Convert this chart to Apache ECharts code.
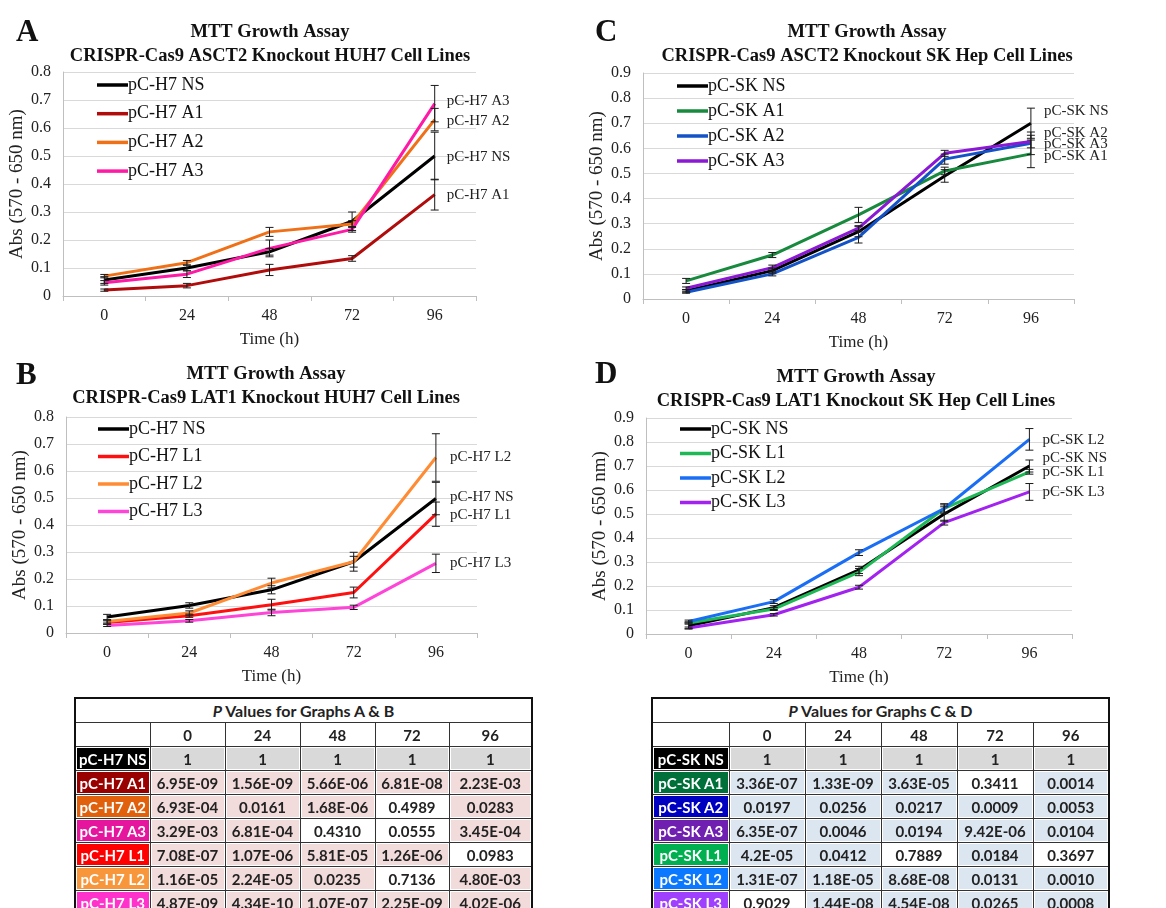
<!DOCTYPE html>
<html>
<head>
<meta charset="utf-8">
<title>MTT Growth Assay</title>
<script src="https://cdn.jsdelivr.net/npm/echarts@6/dist/echarts.min.js"></script>
<style>
  body { margin: 0; background: #fff; overflow: hidden; }
  #main { position: absolute; left: 0; top: 0; width: 1166px; height: 908px; }
  .ptab {
    position: absolute;
    border-collapse: collapse;
    table-layout: fixed;
    font-family: Lato, "Liberation Sans", sans-serif;
    font-weight: bold;
    font-size: 15px;
    color: #222;
    border: 2px solid #111;
  }
  .ptab td {
    height: 23px;
    padding: 0;
    text-align: center;
    border: 1px solid #333;
    box-shadow: inset 0 0 0 1px #fff;
    white-space: nowrap;
    overflow: hidden;
  }
  .ptab td.ttl { font-size: 16px; background: #fff; }
  .ptab td.lab { color: #fff; font-weight: bold; }
</style>
</head>
<body>
<div id="main"></div>
<table id="tabAB" class="ptab" style="left:74px;top:697px;"></table>
<table id="tabCD" class="ptab" style="left:651px;top:697px;"></table>
<script>
// time points (h)
var hours = ['0', '24', '48', '72', '96'];

// panel A: ASCT2 knockout HUH7
var namesA = ['pC-H7 NS', 'pC-H7 A1', 'pC-H7 A2', 'pC-H7 A3'];
var aNS = [0.057, 0.100, 0.158, 0.267, 0.500];
var aA1 = [0.021, 0.037, 0.093, 0.134, 0.362];
var aA2 = [0.071, 0.119, 0.229, 0.257, 0.630];
var aA3 = [0.047, 0.078, 0.170, 0.238, 0.687];
var aNSerr = [0.012, 0.010, 0.012, 0.033, 0.085];
var aA1err = [0.004, 0.008, 0.020, 0.010, 0.055];
var aA2err = [0.006, 0.008, 0.016, 0.012, 0.040];
var aA3err = [0.008, 0.012, 0.030, 0.010, 0.065];

// panel B: LAT1 knockout HUH7
var namesB = ['pC-H7 NS', 'pC-H7 L1', 'pC-H7 L2', 'pC-H7 L3'];
var bNS = [0.059, 0.102, 0.160, 0.264, 0.498];
var bL1 = [0.039, 0.064, 0.105, 0.150, 0.440];
var bL2 = [0.043, 0.074, 0.185, 0.264, 0.650];
var bL3 = [0.028, 0.045, 0.076, 0.095, 0.258];
var bNSerr = [0.010, 0.010, 0.015, 0.035, 0.060];
var bL1err = [0.006, 0.006, 0.020, 0.020, 0.045];
var bL2err = [0.006, 0.008, 0.018, 0.020, 0.088];
var bL3err = [0.004, 0.005, 0.012, 0.008, 0.034];

// panel C: ASCT2 knockout SK Hep
var namesC = ['pC-SK NS', 'pC-SK A1', 'pC-SK A2', 'pC-SK A3'];
var cNS = [0.032, 0.113, 0.268, 0.490, 0.700];
var cA1 = [0.072, 0.175, 0.335, 0.510, 0.578];
var cA2 = [0.027, 0.100, 0.245, 0.557, 0.620];
var cA3 = [0.043, 0.125, 0.282, 0.580, 0.627];
var cNSerr = [0.005, 0.010, 0.020, 0.025, 0.060];
var cA1err = [0.010, 0.010, 0.030, 0.015, 0.055];
var cA2err = [0.004, 0.008, 0.022, 0.020, 0.045];
var cA3err = [0.005, 0.010, 0.010, 0.012, 0.025];

// panel D: LAT1 knockout SK Hep
var namesD = ['pC-SK NS', 'pC-SK L1', 'pC-SK L2', 'pC-SK L3'];
var dNS = [0.034, 0.110, 0.267, 0.500, 0.700];
var dL1 = [0.046, 0.104, 0.258, 0.523, 0.676];
var dL2 = [0.052, 0.135, 0.339, 0.523, 0.811];
var dL3 = [0.025, 0.080, 0.195, 0.464, 0.592];
var dNSerr = [0.012, 0.008, 0.015, 0.030, 0.025];
var dL1err = [0.005, 0.006, 0.015, 0.020, 0.010];
var dL2err = [0.006, 0.008, 0.012, 0.015, 0.045];
var dL3err = [0.004, 0.005, 0.008, 0.010, 0.035];

// P value tables
var rowsAB = ['pC-H7 NS', 'pC-H7 A1', 'pC-H7 A2', 'pC-H7 A3', 'pC-H7 L1', 'pC-H7 L2', 'pC-H7 L3'];
var pAB = [
  ['1', '1', '1', '1', '1'],
  ['6.95E-09', '1.56E-09', '5.66E-06', '6.81E-08', '2.23E-03'],
  ['6.93E-04', '0.0161', '1.68E-06', '0.4989', '0.0283'],
  ['3.29E-03', '6.81E-04', '0.4310', '0.0555', '3.45E-04'],
  ['7.08E-07', '1.07E-06', '5.81E-05', '1.26E-06', '0.0983'],
  ['1.16E-05', '2.24E-05', '0.0235', '0.7136', '4.80E-03'],
  ['4.87E-09', '4.34E-10', '1.07E-07', '2.25E-09', '4.02E-06']
];
var rowsCD = ['pC-SK NS', 'pC-SK A1', 'pC-SK A2', 'pC-SK A3', 'pC-SK L1', 'pC-SK L2', 'pC-SK L3'];
var pCD = [
  ['1', '1', '1', '1', '1'],
  ['3.36E-07', '1.33E-09', '3.63E-05', '0.3411', '0.0014'],
  ['0.0197', '0.0256', '0.0217', '0.0009', '0.0053'],
  ['6.35E-07', '0.0046', '0.0194', '9.42E-06', '0.0104'],
  ['4.2E-05', '0.0412', '0.7889', '0.0184', '0.3697'],
  ['1.31E-07', '1.18E-05', '8.68E-08', '0.0131', '0.0010'],
  ['0.9029', '1.44E-08', '4.54E-08', '0.0265', '0.0008']
];

var serif = 'Liberation Serif, Times New Roman, serif';

var panels = [
  { letter: 'A', letterPos: [11, 12], titleX: 265, titleTop: 15,
    sub: 'CRISPR-Cas9 ASCT2 Knockout HUH7 Cell Lines',
    grid: { left: 63, top: 72, width: 413, height: 224 }, max: 0.8,
    names: namesA, means: [aNS, aA1, aA2, aA3], errs: [aNSerr, aA1err, aA2err, aA3err],
    colors: ['#000000', '#b00c0c', '#f07018', '#ff1aa6'],
    labelDy: [1, 0, 1, -3], labelDist: 12,
    legend: { left: 97, top: 76, gap: 10.7 } },
  { letter: 'B', letterPos: [11, 355], titleX: 261, titleTop: 357,
    sub: 'CRISPR-Cas9 LAT1 Knockout HUH7 Cell Lines',
    grid: { left: 66, top: 417, width: 411, height: 216 }, max: 0.8,
    names: namesB, means: [bNS, bL1, bL2, bL3], errs: [bNSerr, bL1err, bL2err, bL3err],
    colors: ['#000000', '#ff1010', '#ff8c34', '#ff44d8'],
    labelDy: [-1, 1, 0, 0], labelDist: 14,
    legend: { left: 98, top: 420, gap: 9.5 } },
  { letter: 'C', letterPos: [590, 12], titleX: 862, titleTop: 15,
    sub: 'CRISPR-Cas9 ASCT2 Knockout SK Hep Cell Lines',
    grid: { left: 643, top: 73, width: 431, height: 226 }, max: 0.9,
    names: namesC, means: [cNS, cA1, cA2, cA3], errs: [cNSerr, cA1err, cA2err, cA3err],
    colors: ['#000000', '#178a3e', '#1452c8', '#8a18d4'],
    labelDy: [-12, 2, -10, 3], labelDist: 13,
    legend: { left: 677, top: 77, gap: 7 } },
  { letter: 'D', letterPos: [590, 354], titleX: 851, titleTop: 360,
    sub: 'CRISPR-Cas9 LAT1 Knockout SK Hep Cell Lines',
    grid: { left: 646, top: 418, width: 426, height: 216 }, max: 0.9,
    names: namesD, means: [dNS, dL1, dL2, dL3], errs: [dNSerr, dL1err, dL2err, dL3err],
    colors: ['#000000', '#1fb856', '#1a6ef5', '#a222f0'],
    labelDy: [-8, 0, 1, 0], labelDist: 13,
    legend: { left: 680, top: 420, gap: 6.5 } }
];

function renderErr(params, api) {
  var i = api.value(0);
  var hi = api.coord([i, api.value(2)]);
  var lo = api.coord([i, api.value(1)]);
  var st = { stroke: '#1a1a1a', lineWidth: 1 };
  var w = 4;
  return {
    type: 'group',
    children: [
      { type: 'line', shape: { x1: hi[0], y1: hi[1], x2: lo[0], y2: lo[1] }, style: st },
      { type: 'line', shape: { x1: hi[0] - w, y1: hi[1], x2: hi[0] + w, y2: hi[1] }, style: st },
      { type: 'line', shape: { x1: lo[0] - w, y1: lo[1], x2: lo[0] + w, y2: lo[1] }, style: st }
    ]
  };
}

var titles = [], grids = [], xAxes = [], yAxes = [], legends = [], series = [];

panels.forEach(function (p, k) {
  titles.push({
    text: p.letter, left: p.letterPos[0], top: p.letterPos[1],
    textStyle: { fontFamily: serif, fontWeight: 'bold', fontSize: 31, color: '#111' }
  });
  titles.push({
    text: 'MTT Growth Assay\n' + p.sub, left: p.titleX, top: p.titleTop, textAlign: 'center',
    textStyle: { fontFamily: serif, fontWeight: 'bold', fontSize: 18.5, lineHeight: 24, color: '#111' }
  });
  grids.push(p.grid);
  xAxes.push({
    type: 'category', gridIndex: k, data: hours, boundaryGap: true,
    name: 'Time (h)', nameLocation: 'middle', nameGap: 35,
    nameTextStyle: { fontFamily: serif, fontSize: 17, color: '#222' },
    axisLine: { lineStyle: { color: '#bfbfbf', width: 1 } },
    axisTick: { show: true, length: 5, lineStyle: { color: '#bfbfbf' } },
    axisLabel: { fontFamily: serif, fontSize: 16, color: '#222', margin: 12 },
    splitLine: { show: false }
  });
  yAxes.push({
    type: 'value', gridIndex: k, min: 0, max: p.max, interval: 0.1,
    name: 'Abs (570 - 650 nm)', nameLocation: 'middle', nameGap: 36,
    nameTextStyle: { fontFamily: serif, fontSize: 19, color: '#222' },
    axisLine: { show: true, lineStyle: { color: '#bfbfbf', width: 1 } },
    axisTick: { show: false },
    axisLabel: {
      fontFamily: serif, fontSize: 16, color: '#222', margin: 12,
      formatter: function (v) { return v === 0 ? '0' : v.toFixed(1); }
    },
    splitLine: { lineStyle: { color: '#d9d9d9', width: 1 } }
  });
  legends.push({
    data: p.names, orient: 'vertical', left: p.legend.left, top: p.legend.top,
    padding: 0, itemGap: p.legend.gap, itemWidth: 31, itemHeight: 3.5, icon: 'rect',
    selectedMode: false,
    textStyle: { fontFamily: serif, fontSize: 18, color: '#111', lineHeight: 18, padding: [0, 0, 0, -5] }
  });
  p.names.forEach(function (name, j) {
    series.push({
      type: 'line', name: name, xAxisIndex: k, yAxisIndex: k,
      data: p.means[j], showSymbol: false, symbol: 'none',
      lineStyle: { color: p.colors[j], width: 3 },
      itemStyle: { color: p.colors[j] },
      z: 2,
      endLabel: {
        show: true, formatter: '{a}', distance: p.labelDist, offset: [0, p.labelDy[j]],
        fontFamily: serif, fontSize: 15, color: '#222'
      }
    });
  });
  p.names.forEach(function (name, j) {
    series.push({
      type: 'custom', xAxisIndex: k, yAxisIndex: k, z: 3,
      renderItem: renderErr,
      encode: { x: 0, y: [1, 2] },
      data: p.means[j].map(function (m, i) {
        return [i, m - p.errs[j][i], m + p.errs[j][i]];
      })
    });
  });
});

var chart = echarts.init(document.getElementById('main'));
chart.setOption({
  animation: false,
  backgroundColor: '#fff',
  title: titles,
  grid: grids,
  xAxis: xAxes,
  yAxis: yAxes,
  legend: legends,
  series: series
});

// P value tables
function buildTable(id, graphs, rows, vals, labelColors, fill, widths) {
  var html = '<colgroup>';
  widths.forEach(function (w) { html += '<col style="width:' + w + 'px">'; });
  html += '</colgroup>';
  html += '<tr><td class="ttl" colspan="6"><i>P</i> Values for Graphs ' + graphs + '</td></tr>';
  html += '<tr><td style="background:#fff"></td>';
  hours.forEach(function (h) { html += '<td style="background:#fff">' + h + '</td>'; });
  html += '</tr>';
  rows.forEach(function (r, i) {
    html += '<tr><td class="lab" style="background:' + labelColors[i] + '">' + r + '</td>';
    vals[i].forEach(function (v) {
      var bg = i === 0 ? '#d9d9d9' : (parseFloat(v) > 0.05 ? '#ffffff' : fill);
      html += '<td style="background:' + bg + '">' + v + '</td>';
    });
    html += '</tr>';
  });
  document.getElementById(id).innerHTML = html;
}

buildTable('tabAB', 'A &amp; B', rowsAB, pAB,
  ['#000000', '#990000', '#e0600c', '#e6159e', '#ff0000', '#f8963c', '#ff33cc'],
  '#f2dcdb', [75, 75, 75, 75, 74, 83]);
buildTable('tabCD', 'C &amp; D', rowsCD, pCD,
  ['#000000', '#00703a', '#0000c0', '#7020b0', '#00b050', '#0a78ff', '#a040ff'],
  '#dce6f1', [77, 76, 76, 76, 76, 76]);
</script>
</body>
</html>
